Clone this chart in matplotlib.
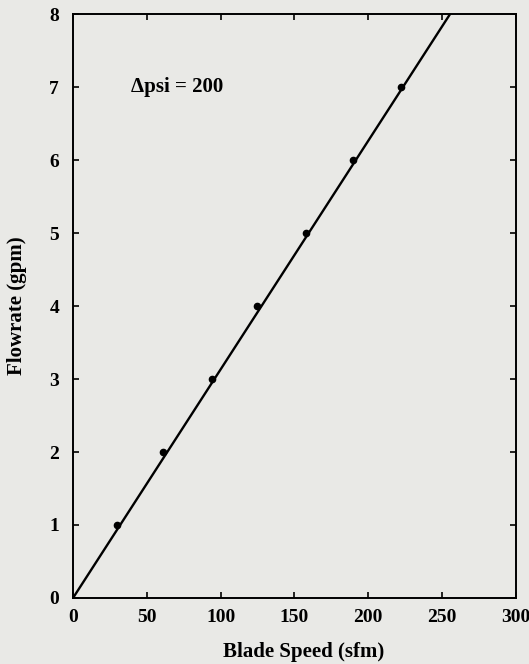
#!/usr/bin/env python3
"""Flowrate vs blade speed at delta psi = 200."""
import matplotlib
matplotlib.use("Agg")
import matplotlib.pyplot as plt

# measured points
speed_sfm = [30, 61, 94, 125, 158, 190, 222]
flow_gpm = [1, 2, 3, 4, 5, 6, 7]

# fitted line through origin
fit_x = [0, 255.5]
fit_y = [0, 8]

x_ticks = [0, 50, 100, 150, 200, 250, 300]
y_ticks = [0, 1, 2, 3, 4, 5, 6, 7, 8]

BG = "#e9e9e6"
FONT = {"family": "Liberation Serif", "weight": "bold"}

fig = plt.figure(figsize=(5.29, 6.64), dpi=100, facecolor=BG)
ax = fig.add_axes([0.138, 0.0994, 0.837, 0.8795], facecolor=BG)

ax.plot(fit_x, fit_y, color="black", linewidth=1.7, solid_capstyle="butt")
ax.plot(speed_sfm, flow_gpm, "o", color="black", markersize=4.5)

ax.set_xlim(0, 300)
ax.set_ylim(0, 8)
ax.set_xticks(x_ticks)
ax.set_yticks(y_ticks)
ax.set_xticklabels([str(v) for v in x_ticks], fontdict=dict(FONT, size=14))
ax.set_yticklabels([str(v) for v in y_ticks], fontdict=dict(FONT, size=14))
ax.tick_params(direction="in", top=True, right=True, length=4, width=1.2)
ax.tick_params(axis="y", pad=10)
ax.tick_params(axis="x", pad=8)
for sp in ax.spines.values():
    sp.set_linewidth(1.4)

ax.text(39, 7.0, "Δpsi = 200", va="center", ha="left", fontdict=dict(FONT, size=15))
ax.set_xlabel("Blade Speed (sfm)", fontdict=dict(FONT, size=15), labelpad=10)
ax.xaxis.set_label_coords(0.52, -0.075)
ax.set_ylabel("Flowrate (gpm)", fontdict=dict(FONT, size=15), labelpad=16)

fig.savefig("out.png", dpi=100, facecolor=BG)
